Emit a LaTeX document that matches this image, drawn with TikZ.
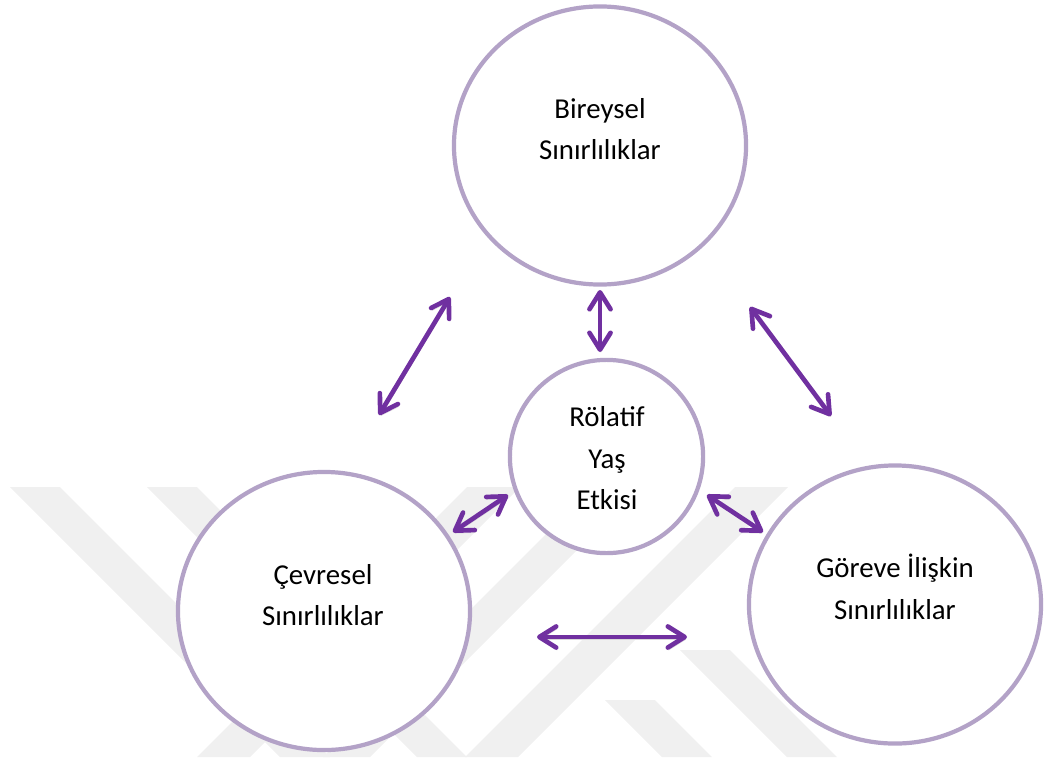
\documentclass[tikz,border=0pt]{standalone}
\usepackage{fontspec}
\setmainfont{Carlito}
\usetikzlibrary{arrows.meta,shapes.geometric}

\definecolor{ringlilac}{HTML}{B3A2C7}
\definecolor{arrowpurple}{HTML}{7030A0}
\definecolor{markgray}{HTML}{F0F0F0}

\tikzset{
  bigring/.style={ellipse, draw=ringlilac, line width=3pt, fill=white,
    minimum width=7.3cm, minimum height=6.95cm, inner sep=0pt},
  smallring/.style={circle, draw=ringlilac, line width=3pt, fill=white,
    minimum size=4.83cm, inner sep=0pt},
  ringtext/.style={align=center, inner sep=0pt,
    font=\fontsize{20.5}{29.5}\selectfont},
  twoway/.style={draw=arrowpurple, line width=3.3pt, line cap=round,
    {Straight Barb[length=12pt,width=15pt,round]}-{Straight Barb[length=12pt,width=15pt,round]},
    preaction={draw=black!15, transform canvas={xshift=0.6pt,yshift=-1.8pt}}},
  band/.style={fill=markgray, draw=none}
}

\begin{document}
\begin{tikzpicture}[x=0.025cm, y=-0.025cm]
  \useasboundingbox (0,0) rectangle (1044,757);

  % faint watermark in the background
  \begin{scope}
    \clip (0,487) rectangle (1044,757);
    \fill[band] (10,487) -- (60,487) -- (330,757) -- (280,757) -- cycle;
    \fill[band] (147,487) -- (197,487) -- (467,757) -- (417,757) -- cycle;
    \fill[band] (467,487) -- (520,487) -- (250,757) -- (197,757) -- cycle;
    \fill[band] (593,487) -- (640,487) -- (370,757) -- (323,757) -- cycle;
    \fill[band] (735,487) -- (788,487) -- (518,757) -- (465,757) -- cycle;
    \fill[band] (605,700) -- (655,700) -- (712,757) -- (662,757) -- cycle;
    \fill[band] (680,650) -- (730,650) -- (837,757) -- (787,757) -- cycle;
  \end{scope}

  % rings
  \node[bigring] (indiv) at (600,145.5) {};
  \node[smallring] (age) at (606.5,456.5) {};
  \node[bigring] (envir) at (324,611) {};
  \node[bigring] (task) at (895,604.5) {};

  \node[ringtext] (indivtext) at (600,129) {Bireysel\\Sınırlılıklar};
  \node[ringtext] (agetext) at (607,458.5) {Rölatif\\Yaş\\Etkisi};
  \node[ringtext] (envirtext) at (323,595) {Çevresel\\Sınırlılıklar};
  \node[ringtext] (tasktext) at (895,587) {Göreve İlişkin\\Sınırlılıklar};

  % arrow ends
  \coordinate (indivleft) at (450,297);
  \coordinate (envirup) at (379,415);
  \coordinate (indivdown) at (600,290);
  \coordinate (agetop) at (600,352);
  \coordinate (indivright) at (750,307);
  \coordinate (taskup) at (831,416);
  \coordinate (ageleft) at (508,495);
  \coordinate (envirright) at (453,532);
  \coordinate (ageright) at (707,495);
  \coordinate (taskleft) at (763,532);
  \coordinate (bottomleft) at (537,637);
  \coordinate (bottomright) at (687,637);

  \draw[twoway] (indivleft) -- (envirup);
  \draw[twoway] (indivdown) -- (agetop);
  \draw[twoway] (indivright) -- (taskup);
  \draw[twoway] (ageleft) -- (envirright);
  \draw[twoway] (ageright) -- (taskleft);
  \draw[twoway] (bottomleft) -- (bottomright);
\end{tikzpicture}
\end{document}
